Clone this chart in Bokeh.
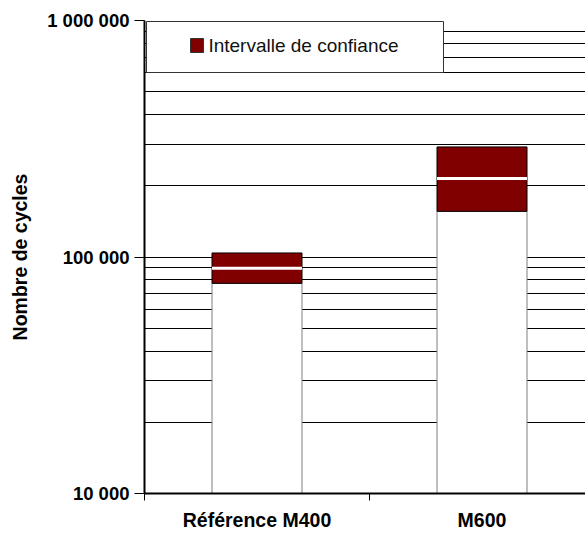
from bokeh.plotting import figure
from bokeh.models import (Range1d, FixedTicker, CustomJSTickFormatter, BoxAnnotation,
                          Label, ColumnDataSource)
from bokeh.embed import file_html
from bokeh.resources import INLINE

# ---- data ----
categories = ["Référence M400", "M600"]
lower = [77400, 156000]      # lower bound of the confidence interval
mean = [89600, 215000]       # mean value (white line)
upper = [104000, 292000]     # upper bound of the confidence interval
y_ticks = [10000, 100000, 1000000]
grid_values = [v * m for m in (10000, 100000) for v in range(2, 10)] + [100000, 1000000]
legend_label = "Intervalle de confiance"
y_title = "Nombre de cycles"

FONT = "Liberation Sans"
RED = "#800000"

x_pos = [0.5 + i for i in range(len(categories))]
base = [y_ticks[0]] * len(categories)
bar_w = 0.4

p = figure(width=585, height=533, output_backend="svg", toolbar_location=None,
           y_axis_type="log", x_range=Range1d(0, 1.96), y_range=Range1d(1e4, 1e6),
           min_border_left=144, min_border_right=0, min_border_top=20,
           min_border_bottom=39)
p.outline_line_color = None
p.background_fill_color = "white"
p.border_fill_color = "white"

src = ColumnDataSource(dict(x=x_pos, base=base, lower=lower, mean=mean, upper=upper,
                            l=[x - bar_w / 2 for x in x_pos], r=[x + bar_w / 2 for x in x_pos]))

# white lower part of the bar
p.quad(left="l", right="r", bottom="base", top="lower", source=src,
       fill_color="white", line_color="#7f7f7f", line_width=1)
# confidence interval
p.quad(left="l", right="r", bottom="lower", top="upper", source=src,
       fill_color=RED, line_color="black", line_width=1)
# mean line
p.segment(x0="l", x1="r", y0="mean", y1="mean", source=src,
          line_color="white", line_width=3)

# grid
p.xgrid.visible = False
p.ygrid.ticker = FixedTicker(ticks=grid_values)
p.ygrid.grid_line_color = "black"
p.ygrid.grid_line_width = 1
p.ygrid.grid_line_alpha = 1

# y axis
ya = p.yaxis[0]
ya.ticker = FixedTicker(ticks=y_ticks)
ya.formatter = CustomJSTickFormatter(
    code="return Math.round(tick).toFixed(0).replace(/\\B(?=(\\d{3})+(?!\\d))/g, ' ');")
ya.axis_line_width = 2
ya.axis_line_color = "black"
ya.major_tick_out = 10
ya.major_tick_in = 0
ya.minor_tick_out = 0
ya.minor_tick_in = 0
ya.major_tick_line_width = 1
ya.major_label_text_font = FONT
ya.major_label_text_font_style = "bold"
ya.major_label_text_font_size = "18.5px"
ya.major_label_text_color = "black"
ya.major_label_standoff = 5
ya.axis_label = y_title
ya.axis_label_text_font = FONT
ya.axis_label_text_font_style = "bold"
ya.axis_label_text_font_size = "19.5px"
ya.axis_label_text_color = "black"
ya.axis_label_standoff = 13

# x axis
xa = p.xaxis[0]
xa.ticker = FixedTicker(ticks=x_pos, minor_ticks=list(range(len(categories) + 1)))
xa.major_label_overrides = {x: c for x, c in zip(x_pos, categories)}
xa.axis_line_width = 2
xa.axis_line_color = "black"
xa.major_tick_out = 0
xa.major_tick_in = 0
xa.minor_tick_out = 7
xa.minor_tick_in = 0
xa.minor_tick_line_width = 1
xa.major_label_text_font = FONT
xa.major_label_text_font_style = "bold"
xa.major_label_text_font_size = "19.5px"
xa.major_label_text_color = "black"
xa.major_label_standoff = 8

# legend (drawn manually)
p.add_layout(BoxAnnotation(left=146, right=443, top=21, bottom=72,
                           left_units="canvas", right_units="canvas",
                           top_units="canvas", bottom_units="canvas",
                           fill_color="white", fill_alpha=1,
                           line_color="#333333", line_width=1, line_alpha=1))
p.add_layout(BoxAnnotation(left=190, right=203, top=38, bottom=52,
                           left_units="canvas", right_units="canvas",
                           top_units="canvas", bottom_units="canvas",
                           fill_color=RED, fill_alpha=1,
                           line_color="#333333", line_width=1, line_alpha=1))
p.add_layout(Label(x=0.284, y=784000, text=legend_label, text_font=FONT,
                   text_font_size="19px", text_color="#111111",
                   text_baseline="middle", text_align="left"))

open("out.html", "w").write(file_html(p, INLINE))
